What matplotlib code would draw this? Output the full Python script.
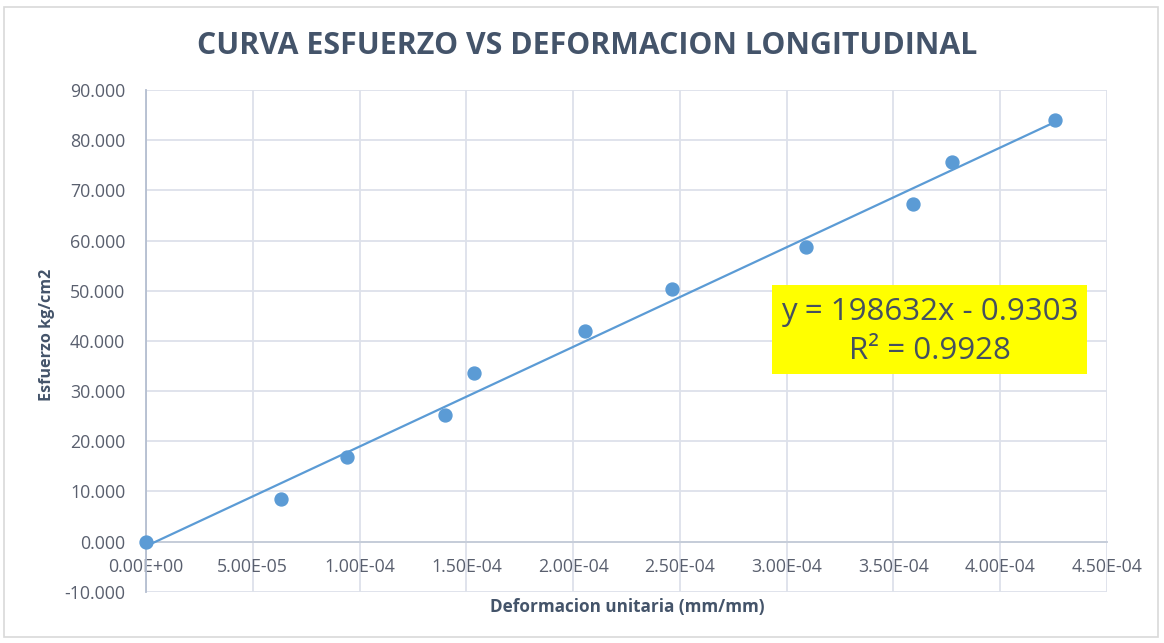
import matplotlib
matplotlib.use("Agg")
import matplotlib.pyplot as plt
from matplotlib.patches import Rectangle
from matplotlib.ticker import MultipleLocator, FuncFormatter
import numpy as np

# Data
deformacion = [0.0, 6.31e-05, 9.40e-05, 1.398e-04, 1.534e-04, 2.058e-04,
               2.465e-04, 3.092e-04, 3.592e-04, 3.775e-04, 4.256e-04]
esfuerzo = [0.0, 8.39, 16.78, 25.17, 33.56, 41.95, 50.34, 58.73, 67.3, 75.6, 84.0]
slope = 198632
intercept = -0.9303
r2 = 0.9928
title = "CURVA ESFUERZO VS DEFORMACION LONGITUDINAL"
xlabel = "Deformacion unitaria (mm/mm)"
ylabel = "Esfuerzo kg/cm2"

blue = "#5b9bd5"
grid_c = "#dde1ea"
txt_c = "#595f6e"
title_c = "#44546a"

plt.rcParams['font.family'] = ['Open Sans', 'DejaVu Sans']

fig = plt.figure(figsize=(11.64, 6.43), dpi=100)
ax = fig.add_axes([146/1164, 1 - 591.7/643, (1107-146)/1164, (591.7-90)/643])

ax.set_xlim(0, 4.5e-4)
ax.set_ylim(-10, 90)
ax.xaxis.set_major_locator(MultipleLocator(0.5e-4))
ax.yaxis.set_major_locator(MultipleLocator(10))
ax.xaxis.set_major_formatter(FuncFormatter(lambda v, p: f"{v:.2E}"))
ax.yaxis.set_major_formatter(FuncFormatter(lambda v, p: f"{v:.3f}"))
ax.grid(True, color=grid_c, linewidth=1.3, zorder=0)
ax.set_axisbelow(True)

for s in ['top', 'right']:
    ax.spines[s].set_visible(False)
ax.spines['left'].set_color("#b4bed0")
ax.spines['left'].set_linewidth(1.3)
ax.spines['bottom'].set_position(('data', 0))
ax.spines['bottom'].set_color("#c4cbd8")
ax.spines['bottom'].set_linewidth(1.3)
ax.tick_params(length=0, labelsize=12.8, labelcolor=txt_c)
ax.tick_params(axis='y', pad=15)
ax.tick_params(axis='x', pad=12)

xs = np.array([min(deformacion), max(deformacion)])
ax.plot(xs, slope * xs + intercept, color=blue, linewidth=1.6, zorder=3)
ax.plot(deformacion, esfuerzo, 'o', color=blue, markersize=9.3, zorder=4,
        clip_on=False)

fig.text(587/1164, 1 - 46/643, title, ha='center', va='center', fontsize=21.8,
         fontweight='bold', color=title_c)
fig.text(627/1164, 1 - 607/643, xlabel, ha='center', va='center', fontsize=12.3,
         fontweight='bold', color=title_c)
fig.text(47/1164, 1 - 335/643, ylabel, ha='center', va='center', rotation=90,
         fontsize=11.6, fontweight='bold', color=title_c)

# equation box
fig.patches.append(Rectangle((772/1164, 1 - 374/643), (1087-772)/1164, (374-285)/643,
                             transform=fig.transFigure, facecolor="#ffff00",
                             edgecolor='none', zorder=5))
fig.text(930/1164, 1 - 312/643, f"y = {slope}x - {abs(intercept)}", ha='center',
         va='center', fontsize=22.5, color="#44505f", zorder=6)
fig.text(930/1164, 1 - 351/643, f"R² = {r2}", ha='center', va='center',
         fontsize=22.5, color="#44505f", zorder=6)

# outer border
fig.patches.append(Rectangle((4/1164, 6/643), (1158-4)/1164, (636-6)/643,
                             transform=fig.transFigure, facecolor='none',
                             edgecolor="#d9d9d9", linewidth=1.2, zorder=0))

fig.savefig("out.png", dpi=100)
